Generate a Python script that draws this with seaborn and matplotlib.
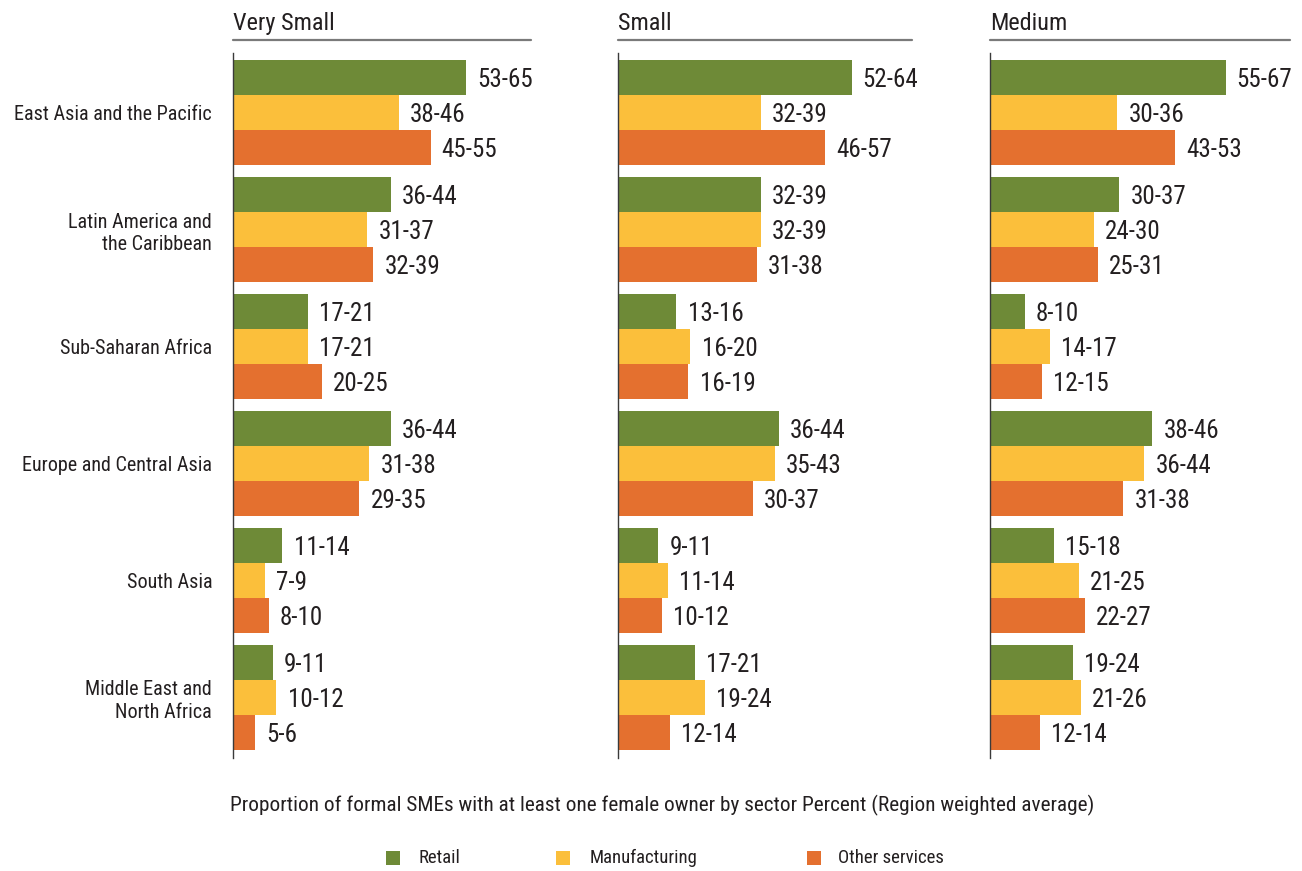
import numpy as np
import pandas as pd
import matplotlib
matplotlib.use("Agg")
import matplotlib.pyplot as plt
from matplotlib.lines import Line2D
from matplotlib.patches import Rectangle
import seaborn as sns

sns.set_theme(style="white")
plt.rcParams["font.family"] = ["Roboto Condensed", "DejaVu Sans Condensed",
                               "Roboto", "DejaVu Sans"]

regions = ["East Asia and the Pacific", "Latin America and\nthe Caribbean",
           "Sub-Saharan Africa", "Europe and Central Asia", "South Asia",
           "Middle East and\nNorth Africa"]
sectors = ["Retail", "Manufacturing", "Other services"]
sizes = ["Very Small", "Small", "Medium"]

# Lower / upper bounds of each estimated range, per firm size and sector
very_small_lo = {"Retail": [53, 36, 17, 36, 11, 9],
                 "Manufacturing": [38, 31, 17, 31, 7, 10],
                 "Other services": [45, 32, 20, 29, 8, 5]}
very_small_hi = {"Retail": [65, 44, 21, 44, 14, 11],
                 "Manufacturing": [46, 37, 21, 38, 9, 12],
                 "Other services": [55, 39, 25, 35, 10, 6]}
small_lo = {"Retail": [52, 32, 13, 36, 9, 17],
            "Manufacturing": [32, 32, 16, 35, 11, 19],
            "Other services": [46, 31, 16, 30, 10, 12]}
small_hi = {"Retail": [64, 39, 16, 44, 11, 21],
            "Manufacturing": [39, 39, 20, 43, 14, 24],
            "Other services": [57, 38, 19, 37, 12, 14]}
medium_lo = {"Retail": [55, 30, 8, 38, 15, 19],
             "Manufacturing": [30, 24, 14, 36, 21, 21],
             "Other services": [43, 25, 12, 31, 22, 12]}
medium_hi = {"Retail": [67, 37, 10, 46, 18, 24],
             "Manufacturing": [36, 30, 17, 44, 25, 26],
             "Other services": [53, 31, 15, 38, 27, 14]}

bounds = {"Very Small": (very_small_lo, very_small_hi),
          "Small": (small_lo, small_hi),
          "Medium": (medium_lo, medium_hi)}
x_max = {"Very Small": 75.4, "Small": 73.0, "Medium": 77.7}

colors = {"Retail": "#6E8A37", "Manufacturing": "#FBBF3B", "Other services": "#E4702F"}
text_color = "#231F20"
W, H = 1302, 871

def fx(px):
    return px / W

def fy(py):
    return 1 - py / H

fig = plt.figure(figsize=(W / 100, H / 100), dpi=100)
fig.patch.set_facecolor("white")

panel_px = {"Very Small": (233, 531), "Small": (618, 912), "Medium": (990, 1290)}
top_px, bot_px = 53, 758

for k, size in enumerate(sizes):
    lo, hi = bounds[size]
    rows = []
    for s in sectors:
        for r, a, b in zip(regions, lo[s], hi[s]):
            rows.append({"region": r, "sector": s, "value": (a + b) / 2,
                         "label": f"{a}-{b}"})
    df = pd.DataFrame(rows)

    x0, x1 = panel_px[size]
    ax = fig.add_axes([fx(x0), fy(bot_px), fx(x1 - x0), (bot_px - top_px) / H])
    sns.barplot(data=df, y="region", x="value", hue="sector", order=regions,
                hue_order=sectors, palette=colors, orient="h", width=0.9,
                saturation=1, errorbar=None, legend=False, linewidth=0,
                ax=ax)
    for cont, s in zip(ax.containers, sectors):
        labs = df[df["sector"] == s].set_index("region").loc[regions, "label"].tolist()
        texts = ax.bar_label(cont, labels=labs, padding=8, fontsize=18,
                             color=text_color)
        for t in texts:
            t.set_verticalalignment("center_baseline")

    ax.set_xlim(0, x_max[size])
    ax.set_ylim(5.52, -0.51)
    ax.set_xlabel("")
    ax.set_ylabel("")
    ax.set_xticks([])
    for sp in ["top", "right", "bottom"]:
        ax.spines[sp].set_visible(False)
    ax.spines["left"].set_color("#3a3a3a")
    ax.spines["left"].set_linewidth(1.0)
    ax.tick_params(axis="y", length=0, pad=15)
    if k == 0:
        ax.set_yticks(range(len(regions)))
        ax.set_yticklabels(regions, fontsize=14.5, color=text_color, ha="right",
                           linespacing=1.25)
    else:
        ax.set_yticks([])

    # Panel heading with rule underneath
    fig.text(fx(x0), fy(21), size, fontsize=17.5, color=text_color,
             ha="left", va="center_baseline")
    fig.add_artist(Line2D([fx(x0), fx(x1)], [fy(40), fy(40)],
                          color="#7a7a7a", linewidth=1.6))

fig.text(fx(230), fy(805),
         "Proportion of formal SMEs with at least one female owner by sector "
         "Percent (Region weighted average)",
         fontsize=15.3, color=text_color, ha="left", va="center")

legend_items = [("Retail", 386, 418), ("Manufacturing", 556, 590),
                ("Other services", 807, 838)]
for name, sq_x, tx in legend_items:
    fig.add_artist(Rectangle((fx(sq_x), fy(865)), fx(14), 14 / H,
                             facecolor=colors[name], edgecolor="none",
                             transform=fig.transFigure))
    fig.text(fx(tx), fy(858), name, fontsize=13.5, color=text_color,
             ha="left", va="center")

fig.savefig("out.png", dpi=100, facecolor="white")
